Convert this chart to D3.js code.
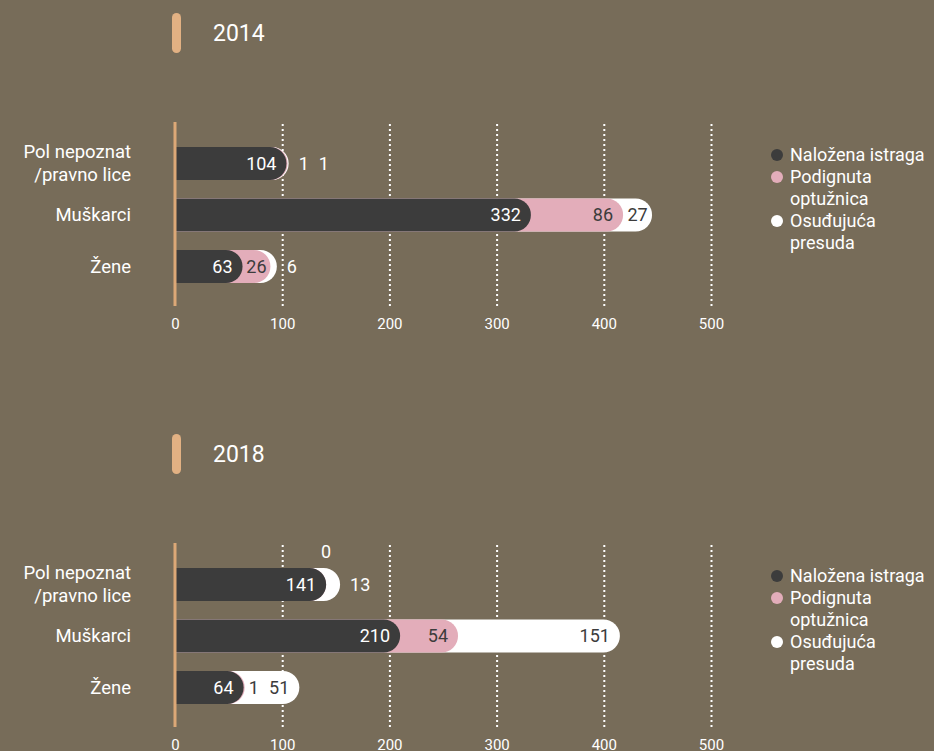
<!DOCTYPE html>
<html>
<head>
<meta charset="utf-8">
<script src="https://cdn.jsdelivr.net/npm/d3@7"></script>
<style>
  html, body { margin: 0; padding: 0; background: #776c59; }
  svg { display: block; font-family: Roboto, "Noto Sans", sans-serif; }
</style>
</head>
<body>
<svg id="chart" width="934" height="751"></svg>
<script>
// Category rows (line breaks split the first label over two lines)
const categories = ["Pol nepoznat\n/pravno lice", "Muškarci", "Žene"];
const seriesNames = ["Naložena istraga", "Podignuta optužnica", "Osuđujuća presuda"];
const legendLines = [["Naložena istraga"], ["Podignuta", "optužnica"], ["Osuđujuća", "presuda"]];
const seriesColors = ["#3c3c3c", "#e3adba", "#ffffff"];
const labelOnColors = ["#ffffff", "#3c3c3c", "#3c3c3c"];

const years = ["2014", "2018"];
const istraga2014 = [104, 332, 63];
const optuznica2014 = [1, 86, 26];
const presuda2014 = [1, 27, 6];
const istraga2018 = [141, 210, 64];
const optuznica2018 = [0, 54, 1];
const presuda2018 = [13, 151, 51];
const tickValues = [0, 100, 200, 300, 400, 500];

const panels = [
  { year: years[0], series: [istraga2014, optuznica2014, presuda2014], top: 0 },
  { year: years[1], series: [istraga2018, optuznica2018, presuda2018], top: 421 }
];

const svg = d3.select("#chart");
const x = d3.scaleLinear().domain([0, 500]).range([175, 711]);
const LABEL_SIZE = 18;

// Bar segment with a square left end and a round right cap
function capPath(x0, x1, y, h) {
  const r = h / 2;
  const xs = Math.max(x0, x1 - r);
  return `M${x0},${y}H${xs}A${r},${r} 0 0 1 ${xs},${y + h}H${x0}Z`;
}

panels.forEach(p => {
  const g = svg.append("g").attr("transform", `translate(0,${p.top})`);

  // Year heading with accent pill
  g.append("rect").attr("x", 172).attr("y", 13).attr("width", 9).attr("height", 40)
    .attr("rx", 4.5).attr("fill", "#e2b183");
  g.append("text").attr("x", 213).attr("y", 41).attr("fill", "#ffffff")
    .attr("font-size", 23).text(p.year);

  const y = d3.scaleBand().domain(categories).range([147, 283]).paddingInner(0.36).paddingOuter(0);
  const h = y.bandwidth();

  // Dotted vertical gridlines
  g.append("g").attr("transform", "translate(0,306)")
    .call(d3.axisBottom(x).tickValues(tickValues.slice(1)).tickSize(-184).tickFormat(""))
    .call(a => a.select(".domain").remove())
    .call(a => a.selectAll(".tick line").attr("stroke", "#ffffff").attr("stroke-width", 2)
      .attr("stroke-dasharray", "2,3"));

  // Tick labels
  g.append("g").attr("transform", "translate(0,318)")
    .call(d3.axisBottom(x).tickValues(tickValues).tickSize(0).tickPadding(0))
    .call(a => a.select(".domain").remove())
    .call(a => a.selectAll(".tick text").attr("fill", "#ffffff").attr("font-size", 15)
      .attr("font-family", "Roboto, sans-serif").attr("dy", "0.71em"));

  // Category labels
  categories.forEach(c => {
    const lines = c.split("\n");
    const cy = y(c) + h / 2;
    lines.forEach((ln, i) => {
      g.append("text").attr("x", 131).attr("y", cy + (i - (lines.length - 1) / 2) * 23)
        .attr("dy", "0.35em").attr("text-anchor", "end").attr("fill", "#ffffff")
        .attr("font-size", 18.5).text(ln);
    });
  });

  // Stacked bars: draw from the top of the stack down so earlier segments sit on top
  categories.forEach((c, ci) => {
    const vals = p.series.map(s => s[ci]);
    const cum = vals.map((v, i) => d3.sum(vals.slice(0, i + 1)));
    const yy = y(c);
    for (let si = vals.length - 1; si >= 0; si--) {
      g.append("path").attr("d", capPath(x(0), x(cum[si]), yy, h)).attr("fill", seriesColors[si]);
    }

    // Value labels
    const cy = yy + h / 2;
    const totalEnd = x(cum[cum.length - 1]);
    let outsideCursor = totalEnd + 10;
    const measure = t => {
      const tmp = g.append("text").attr("font-size", LABEL_SIZE).text(t);
      const w = tmp.node().getComputedTextLength();
      tmp.remove();
      return w;
    };
    vals.forEach((v, si) => {
      const s0 = x(si === 0 ? 0 : cum[si - 1]);
      const s1 = x(cum[si]);
      const w = s1 - s0;
      const tw = measure(String(v));
      const t = g.append("text").attr("font-size", LABEL_SIZE).attr("dy", "0.35em").text(String(v));
      if (v === 0) {
        t.attr("x", s1).attr("y", yy - 16).attr("text-anchor", "middle").attr("fill", "#ffffff");
        return;
      }
      if (w >= tw + 6) {
        // right-aligned near the segment's end, centred when the segment is narrow
        const right = s1 - 10;
        if (right - tw < s0 + 4) {
          t.attr("x", (s0 + s1) / 2).attr("text-anchor", "middle");
        } else {
          t.attr("x", right).attr("text-anchor", "end");
        }
        t.attr("y", cy).attr("fill", labelOnColors[si]);
        return;
      }
      const next = si + 1 < vals.length ? x(cum[si + 1]) - s1 : 0;
      const nextTw = si + 1 < vals.length ? measure(String(vals[si + 1])) : 0;
      if (next >= tw + nextTw + 20) {
        t.attr("x", s1 + 4).attr("y", cy).attr("text-anchor", "start")
          .attr("fill", labelOnColors[si + 1]);
        return;
      }
      t.attr("x", outsideCursor).attr("y", cy).attr("text-anchor", "start").attr("fill", "#ffffff");
      outsideCursor += tw + 10;
    });
  });

  // Orange baseline axis
  g.append("line").attr("x1", x(0)).attr("x2", x(0)).attr("y1", 122).attr("y2", 306)
    .attr("stroke", "#dca877").attr("stroke-width", 3);

  // Legend
  let ly = 155;
  seriesNames.forEach((name, si) => {
    g.append("circle").attr("cx", 777).attr("cy", ly).attr("r", 6).attr("fill", seriesColors[si]);
    legendLines[si].forEach((ln, li) => {
      g.append("text").attr("x", 790).attr("y", ly + li * 22).attr("dy", "0.35em")
        .attr("fill", "#ffffff").attr("font-size", 18).text(ln);
    });
    ly += legendLines[si].length * 22;
  });
});
</script>
</body>
</html>
